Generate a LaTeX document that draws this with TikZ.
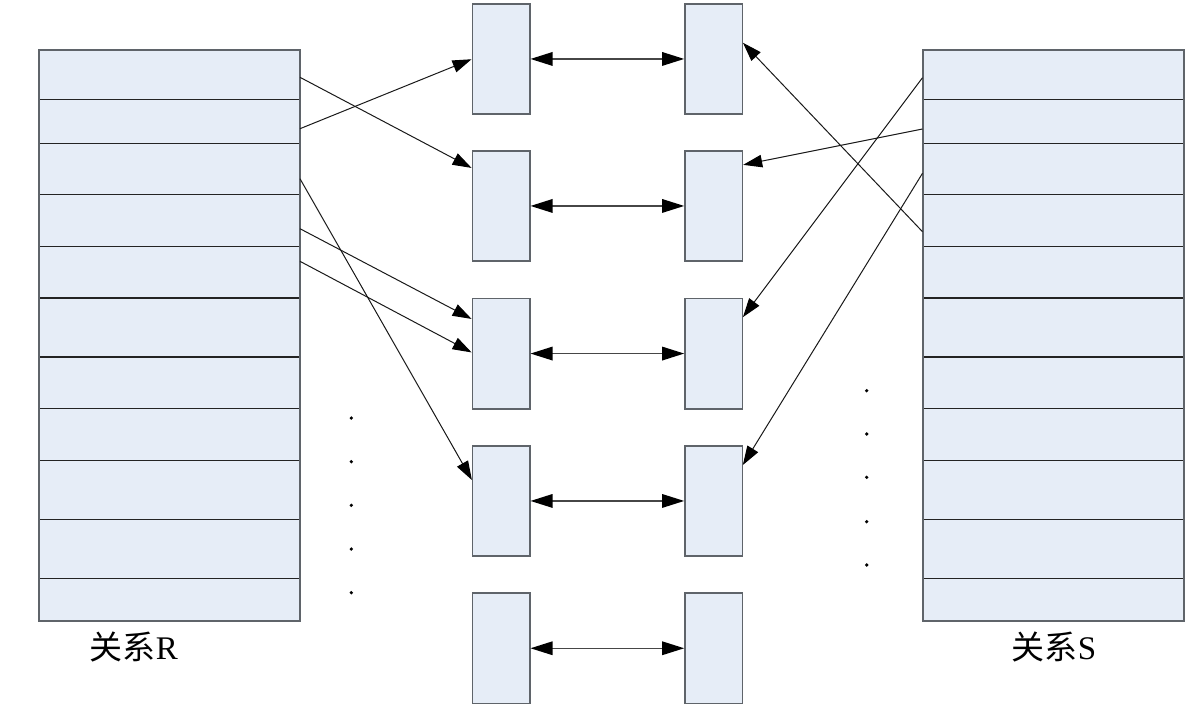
\documentclass[tikz,border=0pt]{standalone}
\usepackage{fontspec}
\setmainfont{Liberation Serif}
\newfontfamily\cjk{Noto Sans CJK SC}
\usetikzlibrary{arrows.meta,calc}
\definecolor{boxfill}{RGB}{230,237,247}
\definecolor{boxline}{RGB}{95,100,106}
\definecolor{rowline}{RGB}{35,35,35}
\definecolor{dblline}{RGB}{70,70,70}
\tikzset{
  rowbox/.style={draw=rowline, line width=1.3pt, fill=boxfill, anchor=north west,
    inner sep=0pt, outer sep=0pt, minimum width=261pt},
  midbox/.style={draw=boxline, line width=1.6pt, fill=boxfill, anchor=north west,
    inner sep=0pt, outer sep=0pt, minimum width=57.4pt, minimum height=110.5pt},
  outerline/.style={draw=boxline, line width=2pt},
  dblarrow/.style={draw=dblline, line width=1.5pt,
    {Triangle[length=22pt,width=13.5pt,black]}-{Triangle[length=22pt,width=13.5pt,black]}, shorten <=0.8pt, shorten >=0.8pt},
  linkarrow/.style={draw=black!90, line width=1pt, -{Triangle[length=19pt,width=12.5pt,black]}, shorten >=0.8pt},
  dotmark/.style={fill=black},
  lab/.style={font=\fontsize{33}{36}\selectfont, inner sep=0pt}
}
\begin{document}
\begin{tikzpicture}[x=1pt,y=-1pt]
\useasboundingbox (0,0) rectangle (1191,710);
% tables R and S
\foreach \i/\t/\h in {1/49.5/49.8, 2/99.3/44, 3/143.3/51.4, 4/194.7/52, 5/246.7/51.3, 6/298/59, 7/357/51.7, 8/408.7/51.6, 9/460.3/59, 10/519.3/59, 11/578.3/42.4}{
  \node[rowbox, minimum height=\h pt] (R\i) at (39,\t) {};
  \node[rowbox, minimum height=\h pt] (S\i) at (922.5,\t) {};
}
\draw[outerline] (R1.north west) rectangle (R11.south east);
\draw[outerline] (S1.north west) rectangle (S11.south east);
% middle boxes
\foreach \i/\t in {1/3.7, 2/150.7, 3/298.3, 4/445.7, 5/593}{
  \node[midbox] (A\i) at (472.3,\t) {};
  \node[midbox] (B\i) at (685,\t) {};
  \draw[dblarrow] (A\i.east) -- (B\i.west);
}
% links from R
\draw[linkarrow] ($(R1.north east)+(0,27.8)$) -- ($(A2.north west)+(0,17.6)$);
\draw[linkarrow] ($(R2.north east)+(0,29.4)$) -- (A1.west);
\draw[linkarrow] ($(R3.north east)+(0,35.4)$) -- ($(A4.north west)+(0,35)$);
\draw[linkarrow] ($(R4.north east)+(0,34)$) -- ($(A3.north west)+(0,21)$);
\draw[linkarrow] ($(R5.north east)+(0,14.6)$) -- ($(A3.north west)+(0,54.5)$);
% links from S
\draw[linkarrow] ($(S4.north west)+(0,37)$) -- ($(B1.north east)+(0,38.5)$);
\draw[linkarrow] ($(S2.north west)+(0,29.7)$) -- ($(B2.north east)+(0,14.3)$);
\draw[linkarrow] ($(S1.north west)+(0,28.2)$) -- ($(B3.north east)+(0,19.5)$);
\draw[linkarrow] ($(S3.north west)+(0,30)$) -- ($(B4.north east)+(0,20)$);
% dots
\foreach \y in {418, 461.7, 505.3, 549, 592.7}{
  \fill[dotmark] (351.3,\y) circle (1.8);
}
\foreach \y in {390.7, 434, 477.3, 521.7, 565}{
  \fill[dotmark] (866.7,\y) circle (1.8);
}
% labels
\node[lab] (labR) at (134,647) {{\cjk 关系}R};
\node[lab] (labS) at (1054,647) {{\cjk 关系}S};
\end{tikzpicture}
\end{document}
